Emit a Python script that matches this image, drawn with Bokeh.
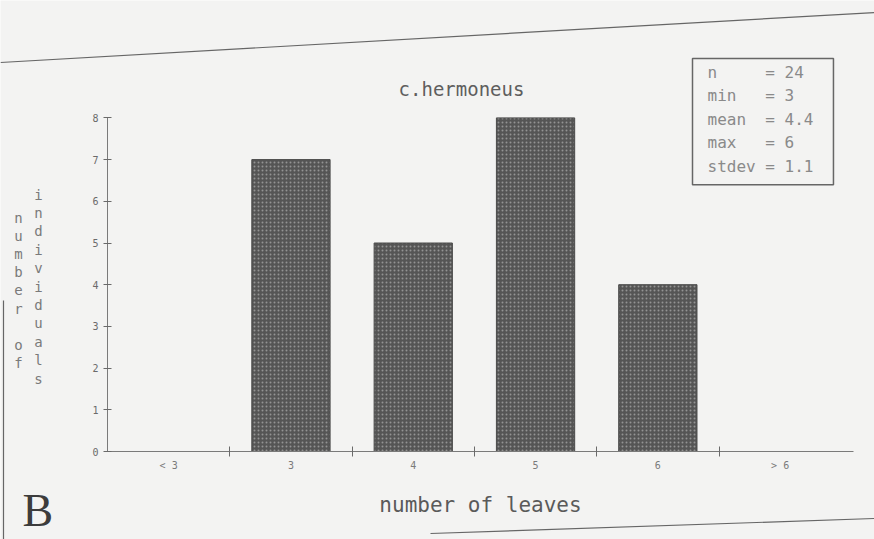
from bokeh.plotting import figure
from bokeh.models import ColumnDataSource, FixedTicker, Label, PolyAnnotation, Range1d
from bokeh.embed import file_html
from bokeh.resources import INLINE

# ---- data ----
categories = ["< 3", "3", "4", "5", "6", "> 6"]
counts = [0, 7, 5, 8, 4, 0]
y_ticks = [0, 1, 2, 3, 4, 5, 6, 7, 8]
title_text = "c.hermoneus"
x_title = "number of leaves"
y_title_col1 = "number of"
y_title_col2 = "individuals"
stat_names = ["n", "min", "mean", "max", "stdev"]
stat_values = ["24", "3", "4.4", "6", "1.1"]
panel_letter = "B"

MONO = "DejaVu Sans Mono"
BG = "#f3f3f2"
NB = "\u00a0"

W, H = 874, 539
# pixel scale of the data area (pixels per data unit) and pixel position of the origin
PXX, PXY = 122.3, 41.7
OX, OY = 107, 451

centers = [i + 0.5 for i in range(len(categories))]
boundaries = [i for i in range(1, len(categories))]

src = ColumnDataSource(dict(x=centers, top=counts, cat=categories))

x_range = Range1d(-OX / PXX, (W - OX) / PXX)
y_range = Range1d((OY - H) / PXY, OY / PXY)

p = figure(width=W, height=H, output_backend="svg", toolbar_location=None,
           x_range=x_range, y_range=y_range,
           min_border_left=0, min_border_right=0, min_border_top=0, min_border_bottom=0)
p.background_fill_color = BG
p.border_fill_color = BG
p.outline_line_color = None
p.grid.grid_line_color = None

p.vbar(x="x", top="top", width=0.64, bottom=0, source=src,
       fill_color="#555555", line_color="#4a4a4a", line_width=1,
       hatch_pattern="dot", hatch_color="#939393", hatch_scale=4, hatch_weight=1)

# x axis: labels at slot centres, tick marks at slot boundaries
xa = p.xaxis[0]
xa.fixed_location = 0
xa.bounds = (0, 6.1)
xa.ticker = FixedTicker(ticks=centers, minor_ticks=boundaries)
xa.major_label_overrides = {c: lab for c, lab in zip(centers, categories)}
xa.major_tick_in = 0
xa.major_tick_out = 0
xa.minor_tick_in = 5
xa.minor_tick_out = 5
xa.minor_tick_line_color = "#6a6a6a"
xa.axis_line_color = "#7a7a7a"
xa.major_label_text_font = MONO
xa.major_label_text_font_size = "10px"
xa.major_label_text_color = "#7a7a7a"
xa.major_label_standoff = 3
xa.axis_label = x_title
xa.axis_label_text_font = MONO
xa.axis_label_text_font_size = "21px"
xa.axis_label_text_font_style = "normal"
xa.axis_label_text_color = "#5a5a5a"
xa.axis_label_standoff = 19

ya = p.yaxis[0]
ya.fixed_location = 0
ya.bounds = (0, 8)
ya.ticker = FixedTicker(ticks=y_ticks, minor_ticks=[])
ya.major_tick_in = 4
ya.major_tick_out = 4
ya.major_tick_line_color = "#6a6a6a"
ya.axis_line_color = "#7a7a7a"
ya.major_label_text_font = MONO
ya.major_label_text_font_size = "10px"
ya.major_label_text_color = "#6a6a6a"
ya.major_label_standoff = 5


def dx(px):
    return (px - OX) / PXX


def dy(py):
    return (OY - py) / PXY


# title
p.add_layout(Label(x=dx(461), y=dy(88), text=title_text, text_font=MONO, text_font_size="19px",
                   text_color="#5e5e5e", text_align="center", text_baseline="middle"))

# stacked vertical y-axis title (two columns)
p.add_layout(Label(x=dx(18), y=dy(209), text="\n".join(NB if ch == " " else ch for ch in y_title_col1),
                   text_font=MONO, text_font_size="14px", text_color="#7a7a7a",
                   text_align="center", text_baseline="top", text_line_height=1.14))
p.add_layout(Label(x=dx(38), y=dy(186), text="\n".join(y_title_col2),
                   text_font=MONO, text_font_size="14px", text_color="#7a7a7a",
                   text_align="center", text_baseline="top", text_line_height=1.15))

# statistics box
w = max(len(s) for s in stat_names) + 1
stats_text = "\n".join(n + NB * (w - len(n)) + "=" + NB + v for n, v in zip(stat_names, stat_values))
p.add_layout(Label(x=dx(692), y=dy(58), text=stats_text, text_font=MONO, text_font_size="16px",
                   text_color="#8a8a8a", text_align="left", text_baseline="top",
                   text_line_height=1.24, border_line_color="#666666", border_line_width=1.5,
                   padding=(15, 20, 4, 9)))

# panel letter
p.add_layout(Label(x=dx(22), y=dy(510), text=panel_letter, text_font="Liberation Serif",
                   text_font_size="46px", text_color="#3c3c3c", text_align="left",
                   text_baseline="middle"))

# scanned page edges
for xs, ys in [([dx(0), dx(874)], [dy(62), dy(12)]),
               ([dx(3), dx(3)], [dy(300), dy(545)]),
               ([dx(430), dx(874)], [dy(533), dy(518)])]:
    p.add_layout(PolyAnnotation(xs=xs, ys=ys, fill_alpha=0, line_alpha=1,
                                line_color="#666666", line_width=1.2))

open("out.html", "w").write(file_html(p, INLINE))
